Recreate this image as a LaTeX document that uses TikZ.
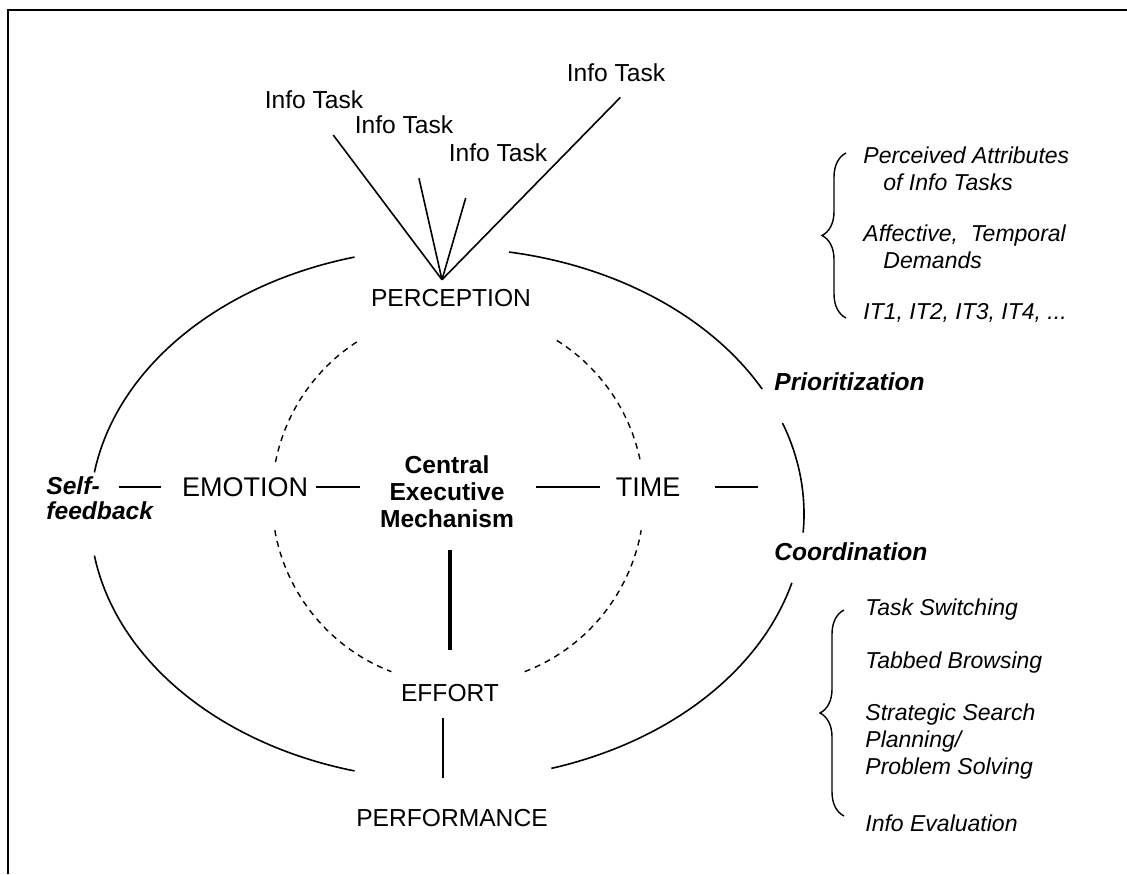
\documentclass[tikz,border=0pt]{standalone}
\usepackage{fontspec}
\setmainfont{Liberation Sans}
\usetikzlibrary{decorations.pathreplacing}

\begin{document}
\begin{tikzpicture}[x=0.5pt, y=0.5pt,
  lbl/.style={inner sep=0pt, font=\fontsize{12.3}{13.5}\selectfont},
  big/.style={inner sep=0pt, font=\fontsize{13.5}{16}\selectfont},
  cue/.style={inner sep=0pt, anchor=west, align=left, font=\fontsize{12.3}{12.5}\selectfont\bfseries\itshape},
  aside/.style={inner sep=0pt, anchor=west, align=left, font=\fontsize{11.5}{13.5}\selectfont\itshape},
  link/.style={line width=0.8pt},
  ring/.style={line width=0.8pt},
  dashring/.style={line width=0.7pt, dash pattern=on 3pt off 2.5pt},
  bracket/.style={line width=0.7pt, decorate, decoration={brace, amplitude=12pt}}]
  \useasboundingbox (0,0) rectangle (1127,874);
  \draw[line width=1pt] (8,0) -- (8,864) -- (1127,864);

  % ---- incoming info tasks ----
  \node[lbl] (task1) at (314,774) {Info Task};
  \node[lbl] (task2) at (404,749) {Info Task};
  \node[lbl] (task3) at (498,721) {Info Task};
  \node[lbl] (task4) at (616,801) {Info Task};
  \node[lbl] (perc) at (451,576) {PERCEPTION};
  \coordinate (apex) at ([shift={(-4.5pt,4.6pt)}]perc.north);
  \draw[link, shorten >=16pt] (apex) -- (task1.south);
  \draw[link, shorten >=22.5pt] (apex) -- ([xshift=2.5pt]task2.south);
  \draw[link, shorten >=18.5pt] (apex) -- ([xshift=-11pt]task3.south);
  \draw[link, shorten >=10.5pt] (apex) -- ([xshift=9.5pt]task4.south);

  % ---- outer loop ----
  \coordinate (hub) at (447,360);
  \draw[ring] (hub) ++(105:357 and 266) arc[start angle=105, end angle=171, x radius=357, y radius=266];
  \draw[ring] (hub) ++(189:357 and 266) arc[start angle=189, end angle=255, x radius=357, y radius=266];
  \draw[ring] (hub) ++(287:357 and 266) arc[start angle=287, end angle=345, x radius=357, y radius=266];
  \draw[ring] (hub) ++(-4:357 and 266) arc[start angle=-4, end angle=20, x radius=357, y radius=266];
  \draw[ring] (hub) ++(28:357 and 266) arc[start angle=28, end angle=80, x radius=357, y radius=266];

  % ---- inner dashed loop ----
  \coordinate (core) at (458,376);
  \draw[dashring] (core) ++(123:186) arc[start angle=123, end angle=170, radius=186];
  \draw[dashring] (core) ++(190:186) arc[start angle=190, end angle=249, radius=186];
  \draw[dashring] (core) ++(291:186) arc[start angle=291, end angle=350, radius=186];
  \draw[dashring] (core) ++(12:186) arc[start angle=12, end angle=58, radius=186];

  % ---- middle row ----
  \node[cue] (self) at (46,376) {Self-\\feedback};
  \node[big] (emo) at (245,387) {EMOTION};
  \node[lbl, font=\fontsize{12.3}{13.5}\selectfont\bfseries, align=center] (cem) at (447,382) {Central\\Executive\\Mechanism};
  \node[big] (time) at (648,387) {TIME};
  \coordinate (tie) at (758,387);
  \draw[link] ([xshift=-17pt]self.east |- emo.west) -- ([xshift=-10.5pt]emo.west);
  \draw[link] ([xshift=4pt]emo.east) -- ([xshift=-10pt]emo.east -| cem.west);
  \draw[link] ([xshift=11pt]cem.east |- time.west) -- ([xshift=-7.5pt]time.west);
  \draw[link] ([xshift=17pt]time.east) -- (tie);

  % ---- bottom column ----
  \node[lbl] (effort) at (450,181) {EFFORT};
  \node[lbl] (perf) at (452,56) {PERFORMANCE};
  \draw[line width=1.6pt, shorten <=10.7pt, shorten >=16.7pt] (effort.north |- cem.south) -- (effort.north);
  \draw[link, shorten <=7.7pt, shorten >=15.7pt] ([xshift=-3.5pt]effort.south) -- ([xshift=-3.5pt]effort.south |- perf.north);

  % ---- right side ----
  \node[cue] (prio) at (774,492) {Prioritization};
  \node[cue] (coord) at (774,322) {Coordination};

  \draw[bracket] (846,556) -- (846,721);
  \node[aside] (attr) at (863,705.5) {Perceived Attributes\\\hspace*{10pt}of Info Tasks};
  \node[aside] (demand) at (863,627) {Affective,\ \ Temporal\\\hspace*{10pt}Demands};
  \node[aside] (ids) at (863,561) {IT1, IT2, IT3, IT4, ...};

  \draw[bracket] (844,58) -- (844,264);
  \node[aside] (switch) at (865,264) {Task Switching};
  \node[aside] (tabs) at (865,211) {Tabbed Browsing};
  \node[aside] (plan) at (865,132) {Strategic Search\\Planning/\\Problem Solving};
  \node[aside] (eval) at (865,51) {Info Evaluation};
\end{tikzpicture}
\end{document}
